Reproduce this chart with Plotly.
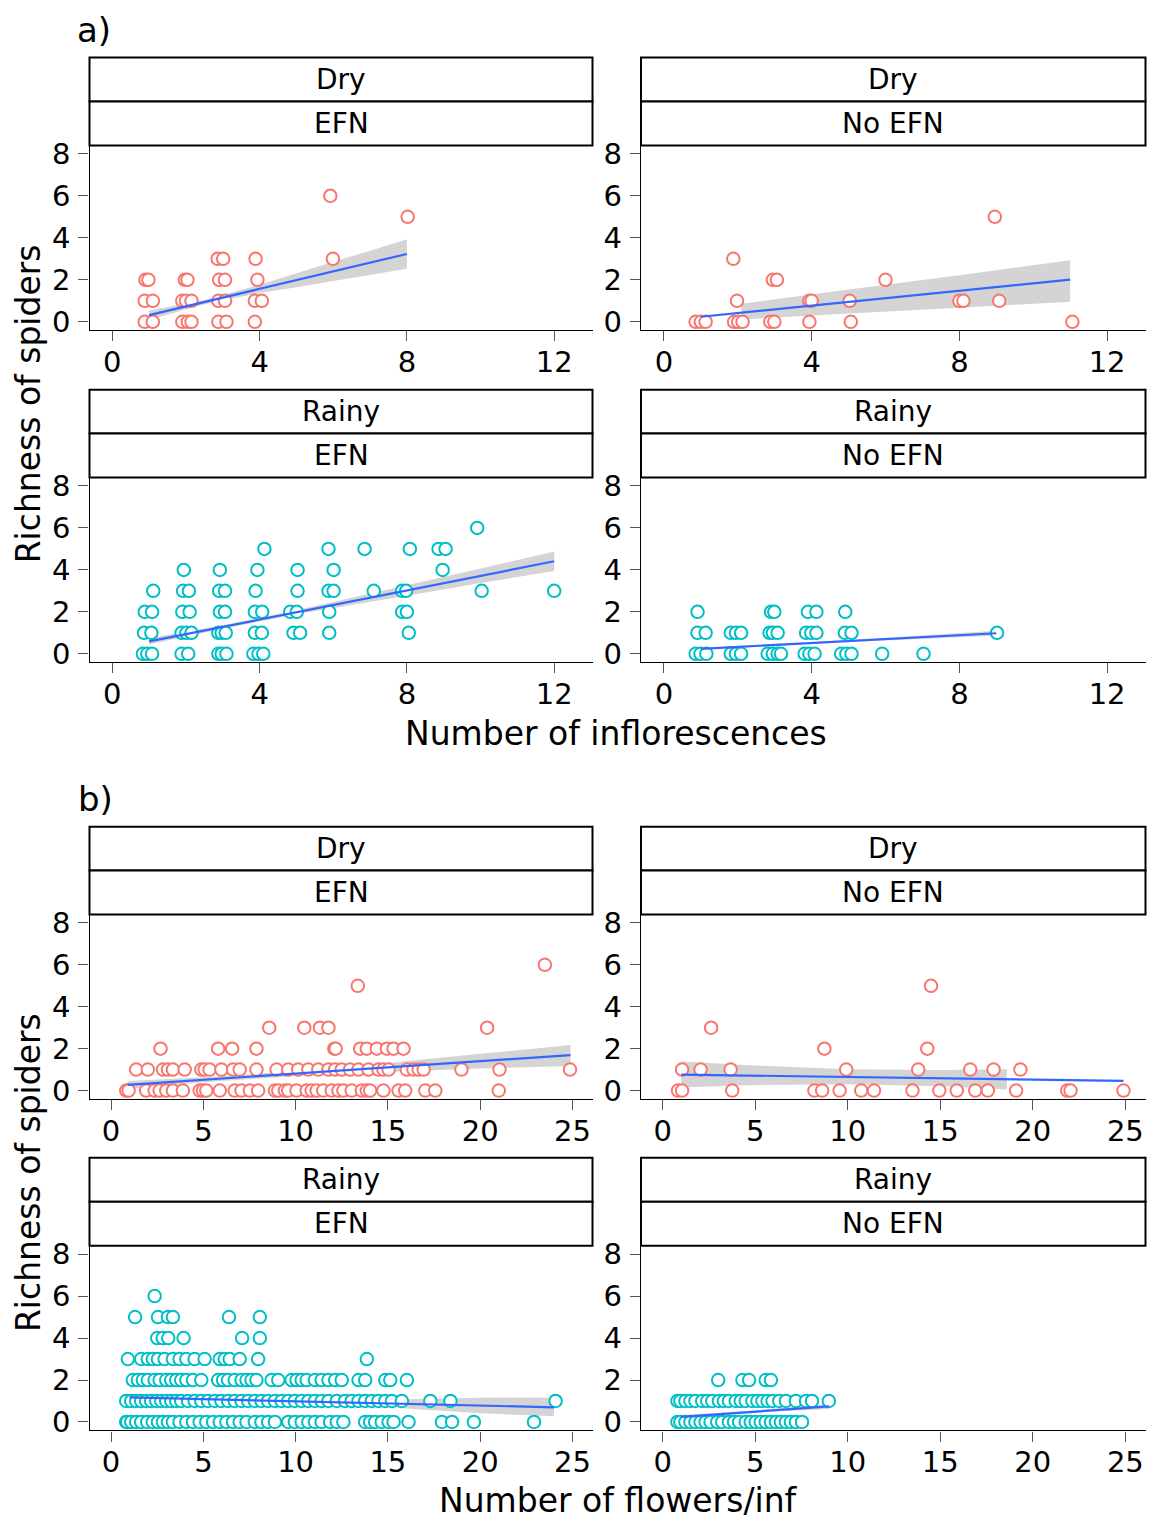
import plotly.graph_objects as go

W = 1149
H_FIG = 1529      # figure height
Y_OFF = 8         # page offset of the figure
Y_SCALE = 0.9905  # vertical scale observed between figure and photograph

# ---------------- data (richness value -> x positions of points) ----------------
# a) Number of inflorescences
a_dry_efn = {
    0: [0.88, 1.1, 1.9, 2.05, 2.15, 2.88, 3.1, 3.87],
    1: [0.88, 1.1, 1.9, 2.0, 2.15, 2.88, 3.06, 3.87, 4.06],
    2: [0.9, 0.98, 1.97, 2.04, 2.9, 3.06, 3.94],
    3: [2.86, 3.01, 3.89, 5.99],
    5: [8.02],
    6: [5.92],
}
a_dry_noefn = {
    0: [0.86, 1.0, 1.13, 1.9, 2.01, 2.13, 2.88, 2.99, 3.94, 5.06, 11.06],
    1: [1.98, 3.94, 4.0, 5.03, 8.0, 8.11, 9.08],
    2: [2.95, 3.06, 6.0],
    3: [1.88],
    5: [8.96],
}
a_rainy_efn = {
    0: [0.83, 0.95, 1.08, 1.88, 2.06, 2.88, 2.97, 3.1, 3.83, 3.97, 4.1],
    1: [0.86, 1.06, 1.88, 2.01, 2.15, 2.88, 2.97, 3.08, 3.87, 4.06, 4.92, 5.1, 5.89, 8.05],
    2: [0.88, 1.08, 1.9, 2.1, 2.92, 3.06, 3.87, 4.07, 4.83, 5.01, 5.89, 7.87, 8.0],
    3: [1.11, 1.92, 2.08, 2.9, 3.06, 3.89, 5.03, 5.87, 6.01, 7.1, 7.87, 7.98, 10.03, 12.0],
    4: [1.94, 2.92, 3.94, 5.03, 6.01, 8.97],
    5: [4.13, 5.87, 6.85, 8.08, 8.86, 9.05],
    6: [9.91],
}
a_rainy_noefn = {
    0: [0.86, 0.99, 1.15, 1.81, 1.95, 2.09, 2.81, 2.95, 3.08, 3.17, 3.81, 3.94, 4.08,
        4.8, 4.94, 5.08, 5.91, 7.03],
    1: [0.91, 1.13, 1.81, 1.95, 2.09, 2.86, 2.95, 3.08, 3.85, 3.99, 4.13, 4.9, 5.08, 9.02],
    2: [0.91, 2.9, 2.99, 3.9, 4.13, 4.91],
}

# b) Number of flowers per inflorescence
b_dry_efn = {
    0: [0.82, 0.95, 1.9, 2.36, 2.63, 2.99, 3.35, 3.89, 4.8, 4.98, 5.16, 5.89, 6.7, 7.07,
        7.52, 7.97, 8.88, 9.06, 9.42, 9.6, 10.05, 10.6, 10.87, 11.14, 11.5, 11.96, 12.32,
        12.59, 13.04, 13.59, 13.86, 14.04, 14.76, 15.58, 15.94, 17.03, 17.57, 21.01],
    1: [1.36, 1.99, 2.81, 3.08, 3.35, 3.99, 4.89, 5.07, 5.34, 5.98, 6.61, 6.97, 7.88, 8.97,
        9.6, 10.14, 10.69, 11.23, 11.78, 12.14, 12.5, 12.95, 13.41, 13.95, 14.49, 14.76,
        15.04, 16.03, 16.39, 16.67, 16.94, 18.99, 21.05, 24.87],
    2: [2.68, 5.8, 6.56, 7.88, 12.1, 12.17, 13.5, 13.86, 14.4, 14.95, 15.31, 15.85],
    3: [8.57, 10.47, 11.32, 11.78, 20.38],
    5: [13.37],
    6: [23.51],
}
b_dry_noefn = {
    0: [0.83, 1.05, 3.76, 8.2, 8.62, 9.56, 10.73, 11.42, 13.5, 14.95, 15.89, 16.89, 17.57,
        19.1, 21.86, 22.04, 24.9],
    1: [1.05, 2.05, 3.67, 9.92, 13.81, 16.62, 17.88, 19.33],
    2: [8.74, 14.3],
    3: [2.62],
    5: [14.5],
}
b_rainy_efn = {
    0: [0.82, 0.87, 1.09, 1.36, 1.63, 1.96, 2.26, 2.54, 2.81, 3.08, 3.35, 3.71, 4.08, 4.44,
        4.8, 5.16, 5.53, 5.89, 6.25, 6.61, 6.97, 7.34, 7.79, 8.15, 8.51, 8.88, 9.6, 9.96,
        10.33, 10.69, 11.05, 11.41, 11.87, 12.23, 12.59, 13.77, 14.04, 14.31, 14.67, 15.04,
        15.31, 16.12, 17.93, 18.48, 19.66, 22.92],
    1: [0.82, 1.09, 1.36, 1.63, 1.9, 2.17, 2.45, 2.72, 2.99, 3.26, 3.53, 3.8, 4.17, 4.53,
        4.89, 5.25, 5.62, 5.98, 6.34, 6.7, 7.07, 7.43, 7.79, 8.15, 8.51, 8.88, 9.24, 9.6,
        9.96, 10.33, 10.69, 11.05, 11.41, 11.78, 12.23, 12.68, 13.04, 13.41, 13.77, 14.13,
        14.49, 14.86, 15.22, 15.76, 17.3, 18.39, 24.09],
    2: [1.18, 1.45, 1.72, 1.99, 2.36, 2.63, 2.99, 3.26, 3.53, 3.8, 4.08, 4.44, 4.89, 5.8,
        6.07, 6.34, 6.7, 7.07, 7.34, 7.61, 7.88, 8.7, 9.06, 9.78, 10.05, 10.33, 10.6, 11.05,
        11.41, 11.78, 12.14, 12.5, 13.41, 13.77, 14.86, 15.13, 16.03],
    3: [0.91, 1.63, 1.99, 2.26, 2.54, 2.9, 3.35, 3.71, 4.08, 4.53, 5.07, 5.89, 6.16, 6.43,
        6.97, 7.97, 13.86],
    4: [2.5, 2.8, 3.1, 3.93, 7.1, 8.06],
    5: [1.3, 2.54, 3.08, 3.35, 6.39, 8.06],
    6: [2.36],
}
b_rainy_noefn = {
    0: [0.8, 0.96, 1.23, 1.5, 1.77, 2.05, 2.32, 2.59, 2.95, 3.22, 3.58, 3.86, 4.13, 4.49,
        4.76, 5.03, 5.3, 5.57, 5.85, 6.12, 6.39, 6.66, 6.93, 7.2, 7.53],
    1: [0.8, 0.96, 1.23, 1.5, 1.77, 2.14, 2.41, 2.68, 3.04, 3.31, 3.58, 3.95, 4.22, 4.49,
        4.85, 5.12, 5.39, 5.67, 5.94, 6.3, 6.66, 7.2, 7.75, 8.07, 8.98],
    2: [3.0, 4.31, 4.67, 5.57, 5.85],
}

# fitted lines (x ends, y ends) and confidence bands
a_dry_efn_fit_x, a_dry_efn_fit_y = [1, 8], [0.32, 3.23]
a_dry_efn_ci_x = [1, 2.5, 4, 5, 6, 7, 8]
a_dry_efn_ci_lo = [0.10, 0.84, 1.37, 1.65, 1.94, 2.23, 2.53]
a_dry_efn_ci_hi = [0.54, 1.04, 1.77, 2.31, 2.86, 3.39, 3.93]

a_dry_noefn_fit_x, a_dry_noefn_fit_y = [1, 11], [0.24, 2.01]
a_dry_noefn_ci_x = [2.1, 5, 8, 11]
a_dry_noefn_ci_lo = [0.11, 0.39, 0.67, 0.95]
a_dry_noefn_ci_hi = [0.86, 1.54, 2.22, 2.93]

a_rainy_efn_fit_x, a_rainy_efn_fit_y = [1, 12], [0.59, 4.41]
a_rainy_efn_ci_x = [1, 3, 5, 8, 10, 12]
a_rainy_efn_ci_lo = [0.44, 1.20, 1.88, 2.77, 3.37, 3.95]
a_rainy_efn_ci_hi = [0.74, 1.36, 2.08, 3.27, 4.07, 4.87]

a_rainy_noefn_fit_x, a_rainy_noefn_fit_y = [1, 9], [0.24, 0.98]
a_rainy_noefn_ci_x = [1, 4, 6, 9]
a_rainy_noefn_ci_lo = [0.19, 0.48, 0.63, 0.86]
a_rainy_noefn_ci_hi = [0.29, 0.56, 0.77, 1.10]

b_dry_efn_fit_x, b_dry_efn_fit_y = [0.9, 24.9], [0.27, 1.69]
b_dry_efn_ci_x = [0.9, 5, 10, 15, 20, 24.9]
b_dry_efn_ci_lo = [0.09, 0.39, 0.69, 0.88, 1.05, 1.17]
b_dry_efn_ci_hi = [0.45, 0.63, 0.93, 1.32, 1.75, 2.17]

b_dry_noefn_fit_x, b_dry_noefn_fit_y = [1, 24.9], [0.76, 0.46]
b_dry_noefn_ci_x = [1, 5, 10, 15, 18.6]
b_dry_noefn_ci_lo = [0.15, 0.26, 0.30, 0.20, 0.05]
b_dry_noefn_ci_hi = [1.38, 1.20, 1.02, 0.98, 1.02]

b_rainy_efn_fit_x, b_rainy_efn_fit_y = [1, 24], [1.17, 0.70]
b_rainy_efn_ci_x = [1, 5, 10, 15, 20, 24]
b_rainy_efn_ci_lo = [1.05, 1.02, 0.91, 0.70, 0.41, 0.27]
b_rainy_efn_ci_hi = [1.29, 1.16, 1.07, 1.06, 1.15, 1.15]

b_rainy_noefn_fit_x, b_rainy_noefn_fit_y = [1, 9], [0.24, 0.74]
b_rainy_noefn_ci_x = [1, 5, 9]
b_rainy_noefn_ci_lo = [0.16, 0.46, 0.62]
b_rainy_noefn_ci_hi = [0.32, 0.56, 0.86]

a_xticks = [0, 4, 8, 12]
b_xticks = [0, 5, 10, 15, 20, 25]
y_ticks = [0, 2, 4, 6, 8]
seasons = ["Dry", "Rainy"]
efn_levels = ["EFN", "No EFN"]

# ---------------- layout helpers ----------------
FONT = "DejaVu Sans"
SALMON = "#F8766D"
TEAL = "#00BFC4"
COLS = [(89.5, 592.5), (641.0, 1145.5)]
ROWS = [(145.7, 330.7), (478.3, 663.3), (916.0, 1100.7), (1247.7, 1432.7)]


def px(x):
    return x / W


def py(y):
    return 1 - ((y - Y_OFF) / Y_SCALE) / H_FIG


panels = [
    # data, fit_x, fit_y, ci_x, ci_lo, ci_hi, row, col, color, block
    (a_dry_efn, a_dry_efn_fit_x, a_dry_efn_fit_y, a_dry_efn_ci_x, a_dry_efn_ci_lo, a_dry_efn_ci_hi, 0, 0, SALMON, "a"),
    (a_dry_noefn, a_dry_noefn_fit_x, a_dry_noefn_fit_y, a_dry_noefn_ci_x, a_dry_noefn_ci_lo, a_dry_noefn_ci_hi, 0, 1, SALMON, "a"),
    (a_rainy_efn, a_rainy_efn_fit_x, a_rainy_efn_fit_y, a_rainy_efn_ci_x, a_rainy_efn_ci_lo, a_rainy_efn_ci_hi, 1, 0, TEAL, "a"),
    (a_rainy_noefn, a_rainy_noefn_fit_x, a_rainy_noefn_fit_y, a_rainy_noefn_ci_x, a_rainy_noefn_ci_lo, a_rainy_noefn_ci_hi, 1, 1, TEAL, "a"),
    (b_dry_efn, b_dry_efn_fit_x, b_dry_efn_fit_y, b_dry_efn_ci_x, b_dry_efn_ci_lo, b_dry_efn_ci_hi, 2, 0, SALMON, "b"),
    (b_dry_noefn, b_dry_noefn_fit_x, b_dry_noefn_fit_y, b_dry_noefn_ci_x, b_dry_noefn_ci_lo, b_dry_noefn_ci_hi, 2, 1, SALMON, "b"),
    (b_rainy_efn, b_rainy_efn_fit_x, b_rainy_efn_fit_y, b_rainy_efn_ci_x, b_rainy_efn_ci_lo, b_rainy_efn_ci_hi, 3, 0, TEAL, "b"),
    (b_rainy_noefn, b_rainy_noefn_fit_x, b_rainy_noefn_fit_y, b_rainy_noefn_ci_x, b_rainy_noefn_ci_lo, b_rainy_noefn_ci_hi, 3, 1, TEAL, "b"),
]

fig = go.Figure()
layout = dict(
    width=W, height=H_FIG, autosize=False,
    margin=dict(l=0, r=0, t=0, b=0),
    paper_bgcolor="white", plot_bgcolor="white",
    showlegend=False,
    font=dict(family=FONT, color="black"),
)
shapes, annotations = [], []

for i, (data, fx, fy, cx, clo, chi, r, c, color, block) in enumerate(panels, start=1):
    xa = "x" if i == 1 else f"x{i}"
    ya = "y" if i == 1 else f"y{i}"
    x0, x1 = COLS[c]
    top, bot = ROWS[r]
    if block == "a":
        xr, xt = [-0.62, 13.04], a_xticks
    else:
        xr, xt = [-1.17, 26.09], b_xticks
    axis_common = dict(
        showline=True, linecolor="black", linewidth=1.4,
        ticks="outside", ticklen=10, tickwidth=1.3, tickcolor="#555555",
        showgrid=False, zeroline=False, fixedrange=True,
        tickfont=dict(family=FONT, size=29, color="black"),
    )
    layout["xaxis" if i == 1 else f"xaxis{i}"] = dict(
        domain=[px(x0), px(x1)], anchor=ya, range=xr,
        tickmode="array", tickvals=xt, ticktext=[str(v) for v in xt],
        ticklabelstandoff=-4,
        **axis_common,
    )
    layout["yaxis" if i == 1 else f"yaxis{i}"] = dict(
        domain=[py(bot), py(top)], anchor=xa, range=[-0.4, 8.4],
        tickmode="array", tickvals=y_ticks, ticktext=[str(v) for v in y_ticks],
        ticklabelstandoff=2,
        **axis_common,
    )
    # confidence band
    fig.add_trace(go.Scatter(
        x=list(cx) + list(cx)[::-1], y=list(chi) + list(clo)[::-1],
        fill="toself", fillcolor="rgba(153,153,153,0.42)", mode="none",
        xaxis=xa, yaxis=ya, hoverinfo="skip",
    ))
    # points
    xs, ys = [], []
    for val, xl in data.items():
        xs += xl
        ys += [val] * len(xl)
    fig.add_trace(go.Scatter(
        x=xs, y=ys, mode="markers",
        marker=dict(symbol="circle", size=12.5, color="white",
                    line=dict(color=color, width=2)),
        xaxis=xa, yaxis=ya, cliponaxis=False,
    ))
    # fitted line
    fig.add_trace(go.Scatter(
        x=fx, y=fy, mode="lines", line=dict(color="#3366FF", width=2.2),
        xaxis=xa, yaxis=ya,
    ))
    # strips
    for k, label in enumerate([seasons[r % 2], efn_levels[c]]):
        s_top = top - 88 + 44 * k
        s_bot = s_top + 44
        shapes.append(dict(type="rect", xref="paper", yref="paper",
                           x0=px(x0), x1=px(x1), y0=py(s_bot), y1=py(s_top),
                           line=dict(color="black", width=2), fillcolor="white",
                           layer="below"))
        annotations.append(dict(text=label, xref="paper", yref="paper",
                                x=px((x0 + x1) / 2), y=py((s_top + s_bot) / 2),
                                xanchor="center", yanchor="middle", showarrow=False,
                                font=dict(family=FONT, size=28, color="black")))

# axis titles and panel labels
for txt, xx, yy, ang, size in [
    ("Number of inflorescences", 616, 735, 0, 33),
    ("Number of flowers/inf", 618, 1503, 0, 33),
    ("Richness of spiders", 28, 405, -90, 33),
    ("Richness of spiders", 28, 1175, -90, 33),
    ("a)", 94, 30, 0, 34),
    ("b)", 95, 800, 0, 34),
]:
    annotations.append(dict(text=txt, xref="paper", yref="paper", x=px(xx), y=py(yy),
                            xanchor="center", yanchor="middle", showarrow=False,
                            textangle=ang, font=dict(family=FONT, size=size, color="black")))

layout["shapes"] = shapes
layout["annotations"] = annotations
fig.update_layout(**layout)

fig.write_html("out.html", config={"displayModeBar": False},
               post_script="document.body.style.margin='0';")
